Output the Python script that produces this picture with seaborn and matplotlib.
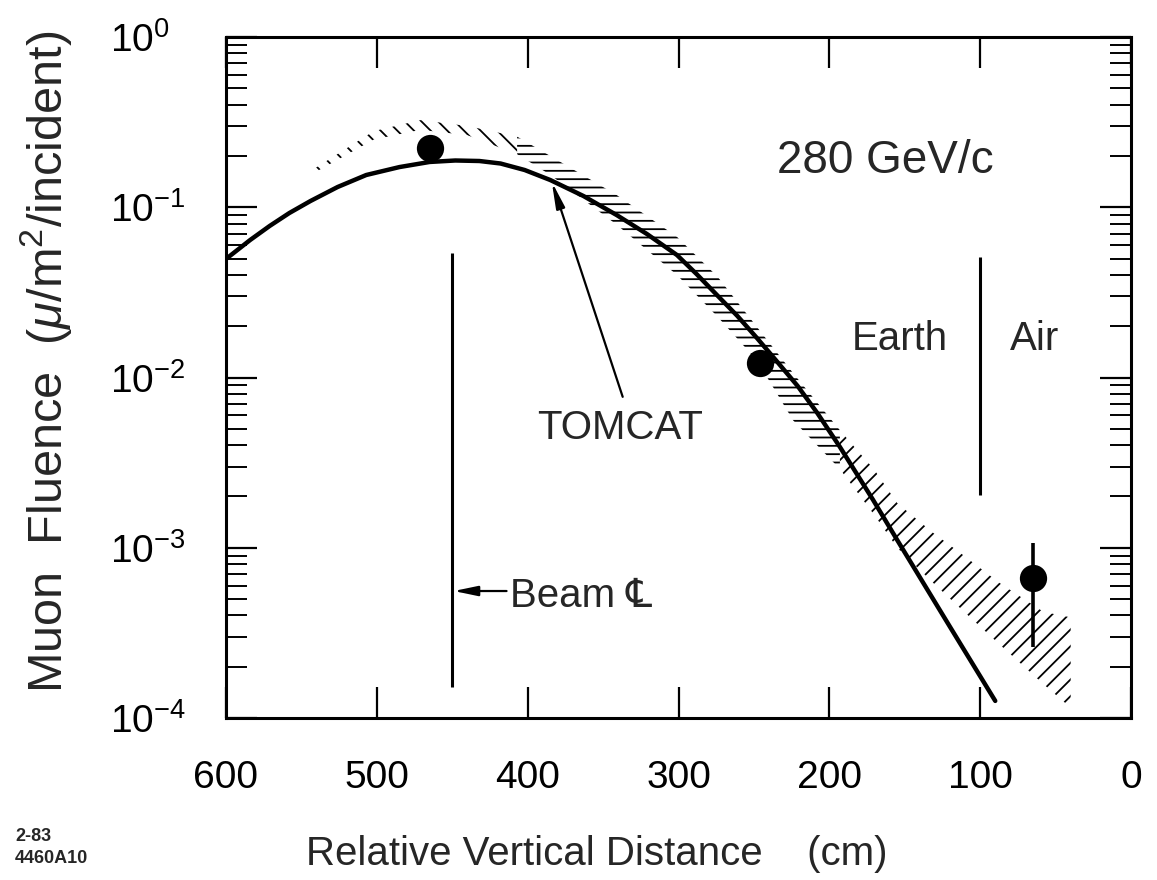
import numpy as np
import pandas as pd
import matplotlib
matplotlib.use("Agg")
import matplotlib.pyplot as plt
import seaborn as sns
from matplotlib.ticker import LogLocator, NullLocator, FixedLocator

# ---------------- data ----------------
# TOMCAT calculation (solid curve)
tomcat_cm = [600, 584, 571, 558, 544, 526, 507, 485, 465, 448, 432, 418, 402,
             385, 363, 341, 321, 301, 288, 274.5, 261, 248, 235, 221, 208,
             193, 171, 155, 120, 90]
tomcat_val = [0.0497, 0.0642, 0.0777, 0.0925, 0.1088, 0.1315, 0.1547, 0.1722,
              0.1845, 0.1882, 0.1869, 0.1807, 0.1655, 0.1445, 0.1164, 0.0900,
              0.0697, 0.0524, 0.0405, 0.0305, 0.0230, 0.01706, 0.0125,
              0.00891, 0.00619, 0.00391, 0.00191, 0.00111, 0.000343, 0.000126]

# hatched band, three pieces (peak / descending / tail)
band_a_cm = [544, 502, 471, 440, 407]
band_a_lo = [0.155, 0.25, 0.285, 0.265, 0.205]
band_a_hi = [0.163, 0.28, 0.325, 0.300, 0.260]

band_b_cm = [407, 385, 341, 301, 274, 248, 224, 193]
band_b_lo = [0.205, 0.155, 0.079, 0.040, 0.0227, 0.0126, 0.0056, 0.0029]
band_b_hi = [0.260, 0.200, 0.118, 0.067, 0.039, 0.0198, 0.0106, 0.0049]

band_c_cm = [193, 170, 155, 131, 113, 87, 58, 40]
band_c_lo = [0.0029, 0.00155, 0.00100, 0.00062, 0.00044, 0.00027, 0.000158,
             0.000115]
band_c_hi = [0.0049, 0.00286, 0.00183, 0.00122, 0.00093, 0.00062, 0.00042,
             0.00039]

# measured points
pts_cm = [465, 246, 65]
pts_val = [0.222, 0.0121, 0.00066]
air_err_lo = 0.00026
air_err_hi = 0.00106

x_ticks = [600, 500, 400, 300, 200, 100, 0]
x_ticklabels = ["600", "500", "400", "300", "200", "100", "0"]

beam_cm = 450
beam_range = (1.52e-4, 0.054)
earth_air_cm = 100
earth_air_range = (2.04e-3, 0.051)

# ---------------- style ----------------
sns.set_theme(style="ticks")
plt.rcParams["font.family"] = ["Liberation Sans", "DejaVu Sans"]
plt.rcParams["mathtext.fontset"] = "custom"
plt.rcParams["mathtext.rm"] = "Liberation Sans"
plt.rcParams["mathtext.it"] = "Liberation Sans:italic"
plt.rcParams["mathtext.bf"] = "Liberation Sans:bold"
plt.rcParams["hatch.linewidth"] = 1.3
plt.rcParams["hatch.color"] = "black"

fig = plt.figure(figsize=(11.57, 8.8), dpi=100)
ax = fig.add_axes([226 / 1157, 1 - 718 / 880, 905 / 1157, 681 / 880])

# hatched band
ax.fill_between(band_a_cm, band_a_lo, band_a_hi, facecolor="none",
                edgecolor="black", linewidth=0, hatch="\\\\")
ax.fill_between(band_b_cm, band_b_lo, band_b_hi, facecolor="none",
                edgecolor="black", linewidth=0, hatch="--")
ax.fill_between(band_c_cm, band_c_lo, band_c_hi, facecolor="none",
                edgecolor="black", linewidth=0, hatch="//")

# curve
df_curve = pd.DataFrame({"cm": tomcat_cm, "val": tomcat_val})
sns.lineplot(data=df_curve, x="cm", y="val", ax=ax, color="black",
             linewidth=3.2, sort=False, estimator=None)

# data points
ax.vlines(pts_cm[2], air_err_lo, air_err_hi, color="black", linewidth=2.6, zorder=4)
sns.scatterplot(x=pts_cm, y=pts_val, ax=ax, s=330, color="black",
                edgecolor="black", zorder=5)

# vertical marker lines
ax.vlines(beam_cm, *beam_range, color="black", linewidth=2.2)
ax.vlines(earth_air_cm, *earth_air_range, color="black", linewidth=2.2)

ax.set_yscale("log")
ax.set_ylim(1e-4, 1)
ax.set_xlim(600, 0)

# ticks
ax.xaxis.set_major_locator(FixedLocator(x_ticks))
ax.set_xticklabels(x_ticklabels)
ax.xaxis.set_minor_locator(NullLocator())
ax.yaxis.set_major_locator(LogLocator(base=10, numticks=10))
ax.yaxis.set_minor_locator(LogLocator(base=10, subs=np.arange(2, 10), numticks=10))
ax.tick_params(which="both", direction="in", top=True, right=True,
               colors="black", labelcolor="black")
ax.tick_params(which="major", length=22, width=1.6)
ax.tick_params(which="minor", length=15, width=1.4)
ax.tick_params(axis="x", which="major", labelsize=28, pad=30)
ax.tick_params(axis="y", which="major", labelsize=28, pad=83.5)
plt.setp(ax.get_yticklabels(), ha="left")

for sp in ax.spines.values():
    sp.set_linewidth(2.2)
    sp.set_color("black")
    sp.set_visible(True)

ax.set_xlabel("Relative Vertical Distance    (cm)", fontsize=29)
ax.xaxis.set_label_coords(0.41, -0.172)
ax.set_ylabel(r"Muon  Fluence  ($\mu$/m$^2$/incident)", fontsize=35)
ax.yaxis.set_label_coords(-0.168, 0.523)

# annotations
ax.text(234.7, 0.159, "280 GeV/c", fontsize=33, ha="left", va="baseline")
ax.text(338.8, 5.05e-3, "TOMCAT", fontsize=29, ha="center", va="center")
ax.annotate("", xy=(384, 0.141), xytext=(337, 7.7e-3),
            arrowprops=dict(arrowstyle="-|>,head_width=0.22,head_length=1.3",
                            color="black", lw=1.6, shrinkA=0, shrinkB=0))
ax.text(412, 4.49e-4, "Beam \u2104", fontsize=29, ha="left", va="baseline")
ax.annotate("", xy=(449, 5.57e-4), xytext=(414, 5.57e-4),
            arrowprops=dict(arrowstyle="-|>,head_width=0.25,head_length=1.2",
                            color="black", lw=1.6, shrinkA=0, shrinkB=0))
ax.text(121.3, 0.0145, "Earth", fontsize=29, ha="right", va="baseline")
ax.text(80.2, 0.0145, "Air", fontsize=29, ha="left", va="baseline")

fig.text(15 / 1157, 1 - 836 / 880, "2-83", fontsize=13, fontweight="bold",
         ha="left", va="center")
fig.text(15 / 1157, 1 - 858 / 880, "4460A10", fontsize=13, fontweight="bold",
         ha="left", va="center")

fig.savefig("out.png", dpi=100, facecolor="white")
